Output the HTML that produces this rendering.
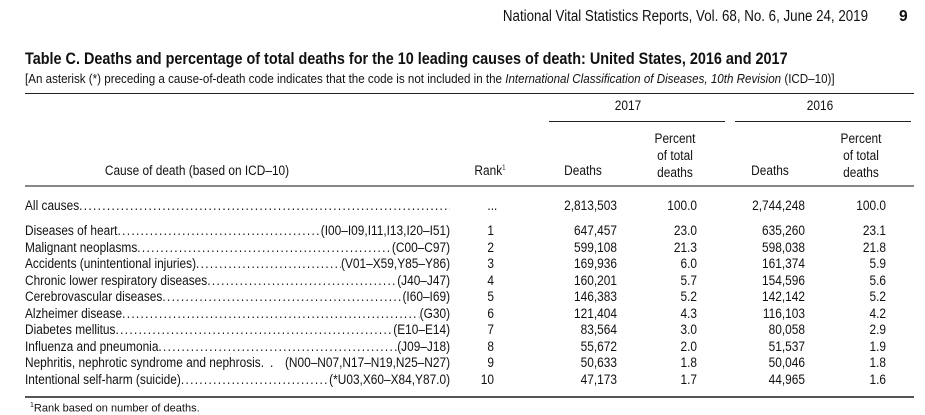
<!DOCTYPE html>
<html><head><meta charset="utf-8"><style>
body{margin:0;width:925px;height:405px;overflow:hidden;background:#fff;position:relative;font-family:"Liberation Sans",sans-serif;color:#111;}
.a{position:absolute;white-space:nowrap;line-height:1;}
.c{text-align:center;}
.row{position:absolute;left:25px;width:483px;height:15px;display:flex;font-size:13.5px;line-height:15px;white-space:nowrap;overflow:hidden;transform:scaleX(0.88);transform-origin:left top;}
.row .n{flex:none;}
.row .d{flex:1;overflow:hidden;letter-spacing:1.5px;}
.row .k{flex:none;}
.num{position:absolute;font-size:13.5px;line-height:15px;text-align:right;transform:scaleX(0.88);transform-origin:right top;}
.h{font-size:13.5px;transform:scaleX(0.88);}
</style></head><body>
<div class="a" style="left:368px;top:9px;width:500px;text-align:right;font-size:15.5px;transform:scaleX(0.86);transform-origin:right top;">National Vital Statistics Reports, Vol. 68, No. 6, June 24, 2019</div>
<div class="a" style="left:899px;top:9px;font-size:15.5px;font-weight:bold;">9</div>
<div class="a" style="left:25px;top:51px;font-size:16.5px;font-weight:bold;transform:scaleX(0.873);transform-origin:left top;">Table C. Deaths and percentage of total deaths for the 10 leading causes of death: United States, 2016 and 2017</div>
<div class="a" style="left:25px;top:72px;font-size:13px;transform:scaleX(0.892);transform-origin:left top;">[An asterisk (*) preceding a cause-of-death code indicates that the code is not included in the <i>International Classification of Diseases, 10th Revision</i> (ICD–10)]</div>
<div class="a" style="left:25px;top:93px;width:889px;height:1px;background:#222;"></div>
<div class="a c h" style="left:578px;top:99px;width:100px;">2017</div>
<div class="a c h" style="left:770px;top:99px;width:100px;">2016</div>
<div class="a" style="left:549px;top:121px;width:176px;height:1px;background:#222;"></div>
<div class="a" style="left:735px;top:121px;width:176px;height:1px;background:#222;"></div>
<div class="a c h" style="left:640px;top:130px;width:70px;line-height:17px;white-space:normal;">Percent<br>of total<br>deaths</div>
<div class="a c h" style="left:826px;top:130px;width:70px;line-height:17px;white-space:normal;">Percent<br>of total<br>deaths</div>
<div class="a c h" style="left:87px;top:164px;width:220px;">Cause of death (based on ICD–10)</div>
<div class="a c h" style="left:460px;top:164px;width:60px;">Rank<sup style="font-size:7px;">1</sup></div>
<div class="a c h" style="left:553px;top:164px;width:60px;">Deaths</div>
<div class="a c h" style="left:740px;top:164px;width:60px;">Deaths</div>
<div class="a" style="left:25px;top:185px;width:889px;height:2px;background:#888;"></div>

<div class="row" style="top:198px;"><span class="n">All causes</span><span class="d">........................................................................................................................</span></div>
<div class="num" style="left:470px;top:198px;width:40px;text-align:center;">...</div>
<div class="num" style="left:540px;top:198px;width:77px;">2,813,503</div>
<div class="num" style="left:640px;top:198px;width:57px;">100.0</div>
<div class="num" style="left:728px;top:198px;width:77px;">2,744,248</div>
<div class="num" style="left:829px;top:198px;width:57px;">100.0</div>

<div class="row" style="top:223px;"><span class="n">Diseases of heart</span><span class="d">..........................................................................................</span><span class="k">(I00–I09,I11,I13,I20–I51)</span></div>
<div class="row" style="top:239.5px;"><span class="n">Malignant neoplasms</span><span class="d">..........................................................................................</span><span class="k">(C00–C97)</span></div>
<div class="row" style="top:256px;"><span class="n">Accidents (unintentional injuries)</span><span class="d">..........................................................................................</span><span class="k">(V01–X59,Y85–Y86)</span></div>
<div class="row" style="top:272.5px;"><span class="n">Chronic lower respiratory diseases </span><span class="d">..........................................................................................</span><span class="k">(J40–J47)</span></div>
<div class="row" style="top:289px;"><span class="n">Cerebrovascular diseases </span><span class="d">..........................................................................................</span><span class="k">(I60–I69)</span></div>
<div class="row" style="top:305.5px;"><span class="n">Alzheimer disease </span><span class="d">..........................................................................................</span><span class="k">(G30)</span></div>
<div class="row" style="top:322px;"><span class="n">Diabetes mellitus</span><span class="d">..........................................................................................</span><span class="k">(E10–E14)</span></div>
<div class="row" style="top:338.5px;"><span class="n">Influenza and pneumonia</span><span class="d">..........................................................................................</span><span class="k">(J09–J18)</span></div>
<div class="row" style="top:355px;"><span class="n">Nephritis, nephrotic syndrome and nephrosis</span><span class="d"> . . </span><span class="k">(N00–N07,N17–N19,N25–N27)</span></div>
<div class="row" style="top:371.5px;"><span class="n">Intentional self-harm (suicide)</span><span class="d">..........................................................................................</span><span class="k">(*U03,X60–X84,Y87.0)</span></div>

<div class="num" style="left:460px;top:223px;width:34px;line-height:16.5px;">1<br>2<br>3<br>4<br>5<br>6<br>7<br>8<br>9<br>10</div>
<div class="num" style="left:540px;top:223px;width:77px;line-height:16.5px;">647,457<br>599,108<br>169,936<br>160,201<br>146,383<br>121,404<br>83,564<br>55,672<br>50,633<br>47,173</div>
<div class="num" style="left:640px;top:223px;width:57px;line-height:16.5px;">23.0<br>21.3<br>6.0<br>5.7<br>5.2<br>4.3<br>3.0<br>2.0<br>1.8<br>1.7</div>
<div class="num" style="left:728px;top:223px;width:77px;line-height:16.5px;">635,260<br>598,038<br>161,374<br>154,596<br>142,142<br>116,103<br>80,058<br>51,537<br>50,046<br>44,965</div>
<div class="num" style="left:829px;top:223px;width:57px;line-height:16.5px;">23.1<br>21.8<br>5.9<br>5.6<br>5.2<br>4.2<br>2.9<br>1.9<br>1.8<br>1.6</div>

<div class="a" style="left:25px;top:396px;width:889px;height:2px;background:#555;"></div>
<div class="a" style="left:30px;top:402px;font-size:11px;"><sup style="font-size:7px;">1</sup>Rank based on number of deaths.</div>
</body></html>
